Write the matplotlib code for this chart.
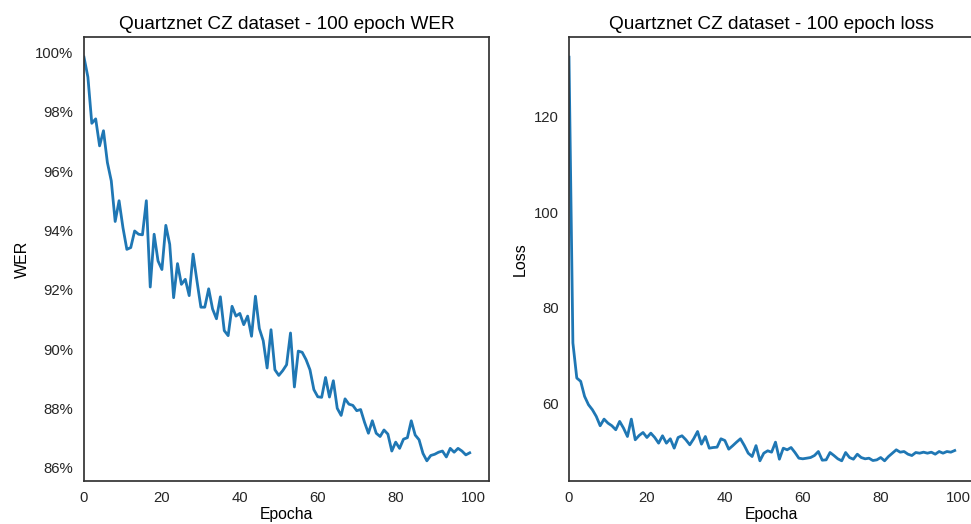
import numpy as np
import matplotlib
matplotlib.use('Agg')
import matplotlib.pyplot as plt
from matplotlib.ticker import PercentFormatter, MultipleLocator

plt.rcParams['font.family'] = ['Liberation Sans', 'DejaVu Sans']

epochs = np.arange(100)

# WER per epoch, in percent
wer = [99.84, 99.17, 97.61, 97.76, 96.85, 97.36, 96.29, 95.67, 94.30, 95.00,
       94.09, 93.36, 93.42, 93.98, 93.87, 93.85, 95.00, 92.09, 93.87, 92.97,
       92.68, 94.17, 93.53, 91.73, 92.88, 92.18, 92.35, 91.80, 93.20, 92.29,
       91.41, 91.41, 92.03, 91.35, 91.02, 91.76, 90.62, 90.45, 91.44, 91.11,
       91.20, 90.82, 91.11, 90.43, 91.78, 90.69, 90.28, 89.36, 90.65, 89.30,
       89.11, 89.27, 89.47, 90.54, 88.72, 89.93, 89.89, 89.64, 89.30, 88.63,
       88.39, 88.37, 89.04, 88.38, 88.93, 88.00, 87.76, 88.32, 88.14, 88.10,
       87.92, 87.96, 87.53, 87.16, 87.58, 87.16, 87.05, 87.27, 87.13, 86.56,
       86.86, 86.65, 86.96, 87.01, 87.58, 87.10, 86.94, 86.48, 86.23, 86.41,
       86.45, 86.52, 86.56, 86.36, 86.65, 86.52, 86.65, 86.56, 86.43, 86.50]

# training loss per epoch
loss = [132.5, 72.6, 65.25, 64.56, 61.41, 59.66, 58.61, 57.21, 55.25, 56.64,
        55.80, 55.25, 54.41, 56.16, 54.75, 53.00, 56.64, 52.31, 53.21, 53.84,
        52.79, 53.70, 52.79, 51.60, 53.15, 51.60, 52.52, 50.55, 52.79, 53.15,
        52.31, 51.26, 52.52, 54.05, 51.39, 53.00, 50.55, 50.69, 50.76, 52.52,
        52.16, 50.34, 51.05, 51.81, 52.52, 51.11, 49.50, 48.80, 51.08, 47.90,
        49.50, 50.00, 49.71, 51.81, 48.24, 50.55, 50.21, 50.69, 49.64, 48.45,
        48.32, 48.45, 48.59, 49.01, 49.85, 48.03, 48.10, 49.64, 49.01, 48.32,
        47.90, 49.64, 48.59, 48.24, 49.29, 48.59, 48.32, 48.45, 47.96, 48.10,
        48.59, 47.90, 48.80, 49.50, 50.21, 49.71, 49.85, 49.29, 49.01, 49.64,
        49.50, 49.71, 49.50, 49.71, 49.29, 49.85, 49.50, 49.85, 49.71, 50.06]

line_color = '#1f77b4'

fig = plt.figure(figsize=(9.71, 5.24), dpi=100)
ax1 = fig.add_axes([84 / 971, 43 / 524, 405 / 971, 444 / 524])
ax2 = fig.add_axes([569 / 971, 43 / 524, 405 / 971, 444 / 524])

ax1.plot(epochs, wer, color=line_color, lw=2)
ax1.set_xlim(left=0)
ax1.yaxis.set_major_locator(MultipleLocator(2))
ax1.yaxis.set_major_formatter(PercentFormatter(100, decimals=0))
ax1.set_title('Quartznet CZ dataset - 100 epoch WER', fontsize=13.7)
ax1.set_xlabel('Epocha', fontsize=11.3, labelpad=1.5)
ax1.set_ylabel('WER', fontsize=11.5)

ax2.plot(epochs, loss, color=line_color, lw=2)
ax2.set_xlim(left=0)
ax2.yaxis.set_major_locator(MultipleLocator(20))
ax2.set_title('Quartznet CZ dataset - 100 epoch loss', fontsize=13.7)
ax2.set_xlabel('Epocha', fontsize=11.3, labelpad=1.5)
ax2.set_ylabel('Loss', fontsize=11.5)

for ax in (ax1, ax2):
    ax.xaxis.set_major_locator(MultipleLocator(20))
    ax.tick_params(length=0, pad=7.5, labelsize=10.7, colors='0.15')
    for sp in ax.spines.values():
        sp.set_color('0.2')
        sp.set_linewidth(1.25)

fig.savefig('out.png', dpi=100)
